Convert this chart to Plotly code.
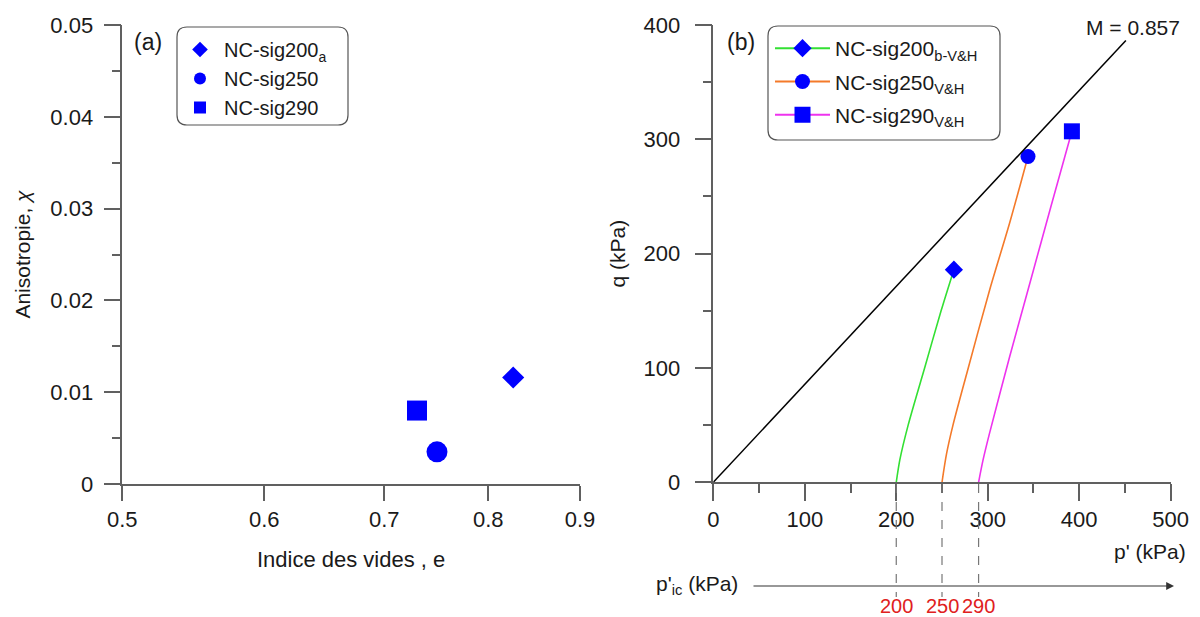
import math
import plotly.graph_objects as go

W, H = 1200, 617

# ---------------- Panel (a) data ----------------
names_a = ["NC-sig200<sub>a</sub>", "NC-sig250", "NC-sig290"]
symbols_a = ["diamond", "circle", "square"]
sizes_a = [17, 21, 20]
e_values = [0.826, 0.749, 0.730]
chi_values = [0.0116, 0.0035, 0.0080]
xticks_a = [0.5, 0.6, 0.7, 0.8, 0.9]
yticks_a = [0, 0.01, 0.02, 0.03, 0.04, 0.05]
yticktext_a = ["0", "0.01", "0.02", "0.03", "0.04", "0.05"]

# ---------------- Panel (b) data ----------------
names_b = ["NC-sig200<sub>b-V&H</sub>", "NC-sig250<sub>V&H</sub>", "NC-sig290<sub>V&H</sub>"]
colors_b = ["#33E033", "#F47A2A", "#EE33EE"]
symbols_b = ["diamond", "circle", "square"]
end_sizes_b = [14, 15, 16]
p_200 = [200, 204, 213, 231, 249, 263]
q_200 = [0, 20, 50, 100, 150, 186]
p_250 = [250, 255, 262, 277, 302, 324, 344]
q_250 = [0, 25, 50, 95, 168, 227, 285]
p_290 = [290, 295, 302, 324, 347, 369, 392]
q_290 = [0, 20, 43, 110, 177, 241, 307]
paths_p = [p_200, p_250, p_290]
paths_q = [q_200, q_250, q_290]
M_slope = 0.857
p_M = [0, 451]
p_ic = [200, 250, 290]

FONT = "Liberation Sans, Arial, sans-serif"
AX = "#606060"
TXT = "#1a1a1a"


def X(px):
    return px / W


def Y(py):
    return 1 - py / H


fig = go.Figure()

for n, s, sz, e, c in zip(names_a, symbols_a, sizes_a, e_values, chi_values):
    fig.add_trace(go.Scatter(
        x=[e], y=[c], mode="markers", name=n,
        marker=dict(symbol=s, size=sz, color="#0000FF", opacity=1),
        xaxis="x", yaxis="y", legend="legend", cliponaxis=False,
    ))

for i, (n, col, s, sz, pp, qq) in enumerate(zip(names_b, colors_b, symbols_b,
                                                 end_sizes_b, paths_p, paths_q)):
    fig.add_trace(go.Scatter(
        x=pp, y=qq, mode="lines", showlegend=False,
        line=dict(color=col, width=1.6, shape="spline", smoothing=0.8),
        xaxis="x2", yaxis="y2", cliponaxis=False,
    ))
    fig.add_trace(go.Scatter(
        x=pp[-1:], y=qq[-1:], mode="lines+markers", name=n, legendgroup=f"g{i}",
        line=dict(color=col, width=2),
        marker=dict(symbol=s, size=sz, color="#0000FF", opacity=1),
        xaxis="x2", yaxis="y2", legend="legend2", cliponaxis=False,
    ))

fig.add_trace(go.Scatter(
    x=p_M, y=[M_slope * p for p in p_M], mode="lines",
    line=dict(color="black", width=1.5), showlegend=False,
    xaxis="x2", yaxis="y2",
))


def rounded_rect(x0, y0, x1, y1, r):
    pts = [
        f"M {X(x0 + r)} {Y(y0)}",
        f"L {X(x1 - r)} {Y(y0)}",
        f"Q {X(x1)} {Y(y0)} {X(x1)} {Y(y0 + r)}",
        f"L {X(x1)} {Y(y1 - r)}",
        f"Q {X(x1)} {Y(y1)} {X(x1 - r)} {Y(y1)}",
        f"L {X(x0 + r)} {Y(y1)}",
        f"Q {X(x0)} {Y(y1)} {X(x0)} {Y(y1 - r)}",
        f"L {X(x0)} {Y(y0 + r)}",
        f"Q {X(x0)} {Y(y0)} {X(x0 + r)} {Y(y0)}",
        "Z",
    ]
    return dict(type="path", xref="paper", yref="paper", path=" ".join(pts),
                line=dict(color="#555", width=1.2), layer="below")


shapes = [rounded_rect(177, 27, 348, 125, 10), rounded_rect(768, 26, 1000, 140, 10)]
for v in p_ic:
    shapes.append(dict(type="line", xref="x2", yref="paper", x0=v, x1=v,
                       y0=Y(484), y1=Y(597),
                       line=dict(color="#777", width=1.2, dash="dash")))


def note(text, x, y, size=21, color=TXT, xref="paper"):
    return dict(text=text, x=x, y=Y(y), xref=xref, yref="paper", showarrow=False,
                xanchor="center", yanchor="middle", font=dict(size=size, color=color))


annotations = [
    note("(a)", X(148), 42, size=23),
    note("(b)", X(741), 42, size=23),
    note("M = 0.857", X(1133), 28),
    note("p' (kPa)", X(1150), 551),
    note("p'<sub>ic</sub> (kPa)", X(697), 585),
    dict(text="", x=X(1174), y=Y(586), xref="paper", yref="paper", showarrow=True,
         ax=-422, ay=0, arrowhead=2, arrowsize=1.3, arrowwidth=1.2, arrowcolor="#333"),
]
for v in p_ic:
    annotations.append(note(str(v), v, 606, size=20, color="#E02020", xref="x2"))

common_axis = dict(showline=True, linecolor=AX, linewidth=1.5, ticks="outside",
                   tickcolor=AX, tickwidth=1.5, ticklen=17, showgrid=False,
                   zeroline=False, tickfont=dict(size=22, color=TXT), fixedrange=True,
                   automargin=False)

fig.update_layout(
    template="none",
    width=W, height=H,
    margin=dict(l=0, r=0, t=0, b=0, pad=0),
    paper_bgcolor="white", plot_bgcolor="white",
    font=dict(family=FONT, color=TXT),
    showlegend=True,
    xaxis=dict(common_axis, type="log", domain=[X(122.3), X(580)],
               range=[math.log10(0.5), math.log10(0.9)],
               tickvals=xticks_a, ticktext=[str(v) for v in xticks_a],
               ticklen=15, anchor="y",
               title=dict(text="Indice des vides , e", font=dict(size=22), standoff=20)),
    yaxis=dict(common_axis, domain=[Y(484), Y(25)], range=[0, 0.05],
               tickvals=yticks_a, ticktext=yticktext_a, anchor="x",
               minor=dict(dtick=0.005, ticks="outside", ticklen=9, tickcolor=AX, tickwidth=1.5),
               ticklabelstandoff=6,
               title=dict(text="Anisotropie, <i>χ</i>", font=dict(size=21), standoff=14)),
    xaxis2=dict(common_axis, domain=[X(713.3), X(1170.7)], range=[0, 500],
                dtick=100, anchor="y2",
                minor=dict(dtick=50, ticks="outside", ticklen=9, tickcolor=AX, tickwidth=1.5)),
    yaxis2=dict(common_axis, domain=[Y(482.3), Y(25)], range=[0, 400],
                dtick=100, anchor="x2", ticklabelstandoff=10,
                minor=dict(dtick=50, ticks="outside", ticklen=9, tickcolor=AX, tickwidth=1.5),
                title=dict(text="q (kPa)", font=dict(size=21), standoff=12)),
    legend=dict(x=X(176), y=Y(30), xanchor="left", yanchor="top",
                bgcolor="rgba(0,0,0,0)", borderwidth=0, itemsizing="constant",
                itemwidth=38, font=dict(size=20, color=TXT), tracegroupgap=0),
    legend2=dict(x=X(770), y=Y(28), xanchor="left", yanchor="top",
                 bgcolor="rgba(0,0,0,0)", borderwidth=0,
                 itemwidth=55, font=dict(size=21, color=TXT), tracegroupgap=3),
    shapes=shapes,
    annotations=annotations,
)

fig.write_html("out.html", config={"displayModeBar": False},
               post_script="document.body.style.margin='0';document.body.style.padding='0';")
